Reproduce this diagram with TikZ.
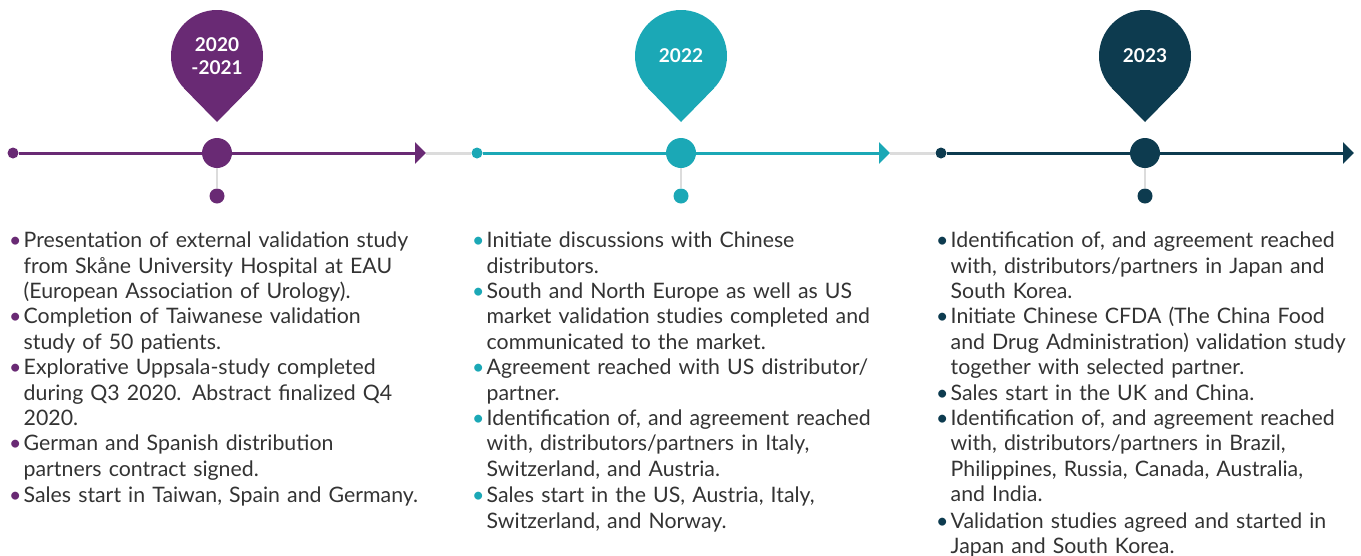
\documentclass[tikz,border=0pt]{standalone}
\usepackage{fontspec}
\setmainfont{Lato}
\usetikzlibrary{arrows.meta,backgrounds}
\definecolor{yearpurple}{HTML}{692A74}
\definecolor{yearteal}{HTML}{1BA8B6}
\definecolor{yearnavy}{HTML}{0D3B4F}
\definecolor{linegrey}{HTML}{DCDCDC}
\definecolor{bodytext}{HTML}{333333}
\newcommand\tlitem[2]{\lineskiplimit=-20pt\lineskip=0pt\par\noindent\makebox[14.5pt][l]{\textcolor{#1}{\textbullet}}\begin{tabular}[t]{@{}l@{}}#2\end{tabular}}
\begin{document}
\begin{tikzpicture}[x=1pt,y=1pt,
    tldot/.style={circle,inner sep=0pt,minimum size=#1},
    yearpin/.style={circle,inner sep=0pt,minimum size=92pt,text=white,align=center,font=\fontsize{19}{23}\selectfont\bfseries},
    tlline/.style={line width=3pt},
    tlarrow/.style={line width=3pt,-{Triangle[length=11pt,width=21pt]}},
    greyline/.style={line width=3pt,linegrey},
    stemline/.style={line width=2.5pt,linegrey},
    itemlist/.style={anchor=north west,inner sep=0pt,text width=460pt,align=left,text=bodytext,font=\fontsize{21.3}{25.4}\selectfont}]
    \useasboundingbox (0,0) rectangle (1361,-555);
    \coordinate (e1) at (426,-153);
    \coordinate (e2) at (890,-153);
    \coordinate (e3) at (1354,-153);
    \coordinate (t1) at (217,-122);
    \coordinate (t2) at (681,-122);
    \coordinate (t3) at (1145,-122);
    \node[yearpin,fill=yearpurple] (pin1) at (217,-56) {2020\\-2021};
    \node[yearpin,fill=yearteal] (pin2) at (681,-56) {2022};
    \node[yearpin,fill=yearnavy] (pin3) at (1145,-56) {2023};
    \begin{scope}[on background layer]
        \fill[yearpurple] (pin1.224.2) -- (t1) -- (pin1.-44.2) -- (pin1.center) -- cycle;
        \fill[yearteal] (pin2.224.2) -- (t2) -- (pin2.-44.2) -- (pin2.center) -- cycle;
        \fill[yearnavy] (pin3.224.2) -- (t3) -- (pin3.-44.2) -- (pin3.center) -- cycle;
    \end{scope}
    \node[tldot=11pt,fill=yearpurple] (s1) at (13,-153) {};
    \node[tldot=11pt,fill=yearteal] (s2) at (477,-153) {};
    \node[tldot=11pt,fill=yearnavy] (s3) at (941,-153) {};
    \node[tldot=30pt,fill=yearpurple] (c1) at (217,-153) {};
    \node[tldot=30pt,fill=yearteal] (c2) at (681,-153) {};
    \node[tldot=30pt,fill=yearnavy] (c3) at (1145,-153) {};
    \node[tldot=15pt,fill=yearpurple] (d1) at (217,-196) {};
    \node[tldot=15pt,fill=yearteal] (d2) at (681,-196) {};
    \node[tldot=15pt,fill=yearnavy] (d3) at (1145,-196) {};
    \draw[greyline] (e1) -- (s2);
    \draw[greyline] (e2) -- (s3);
    \draw[stemline] (c1) -- (d1);
    \draw[stemline] (c2) -- (d2);
    \draw[stemline] (c3) -- (d3);
    \draw[tlline,yearpurple] (s1) -- (c1);
    \draw[tlarrow,yearpurple] (c1) -- (e1);
    \draw[tlline,yearteal] (s2) -- (c2);
    \draw[tlarrow,yearteal] (c2) -- (e2);
    \draw[tlline,yearnavy] (s3) -- (c3);
    \draw[tlarrow,yearnavy] (c3) -- (e3);
    \node[itemlist] (list1) at (9,-222) {%
        \tlitem{yearpurple}{Presentation of external validation study\\from Skåne University Hospital at EAU\\(European Association of Urology).}
        \tlitem{yearpurple}{Completion of Taiwanese validation\\study of 50 patients.}
        \tlitem{yearpurple}{Explorative Uppsala-study completed\\during Q3 2020. Abstract finalized Q4\\2020.}
        \tlitem{yearpurple}{German and Spanish distribution\\partners contract signed.}
        \tlitem{yearpurple}{Sales start in Taiwan, Spain and Germany.}};
    \node[itemlist] (list2) at (472,-222) {%
        \tlitem{yearteal}{Initiate discussions with Chinese\\distributors.}
        \tlitem{yearteal}{South and North Europe as well as US\\market validation studies completed and\\communicated to the market.}
        \tlitem{yearteal}{Agreement reached with US distributor/\\partner.}
        \tlitem{yearteal}{Identification of, and agreement reached\\with, distributors/partners in Italy,\\Switzerland, and Austria.}
        \tlitem{yearteal}{Sales start in the US, Austria, Italy,\\Switzerland, and Norway.}};
    \node[itemlist] (list3) at (936,-222) {%
        \tlitem{yearnavy}{Identification of, and agreement reached\\with, distributors/partners in Japan and\\South Korea.}
        \tlitem{yearnavy}{Initiate Chinese CFDA (The China Food\\and Drug Administration) validation study\\together with selected partner.}
        \tlitem{yearnavy}{Sales start in the UK and China.}
        \tlitem{yearnavy}{Identification of, and agreement reached\\with, distributors/partners in Brazil,\\Philippines, Russia, Canada, Australia,\\and India.}
        \tlitem{yearnavy}{Validation studies agreed and started in\\Japan and South Korea.}};
\end{tikzpicture}
\end{document}
